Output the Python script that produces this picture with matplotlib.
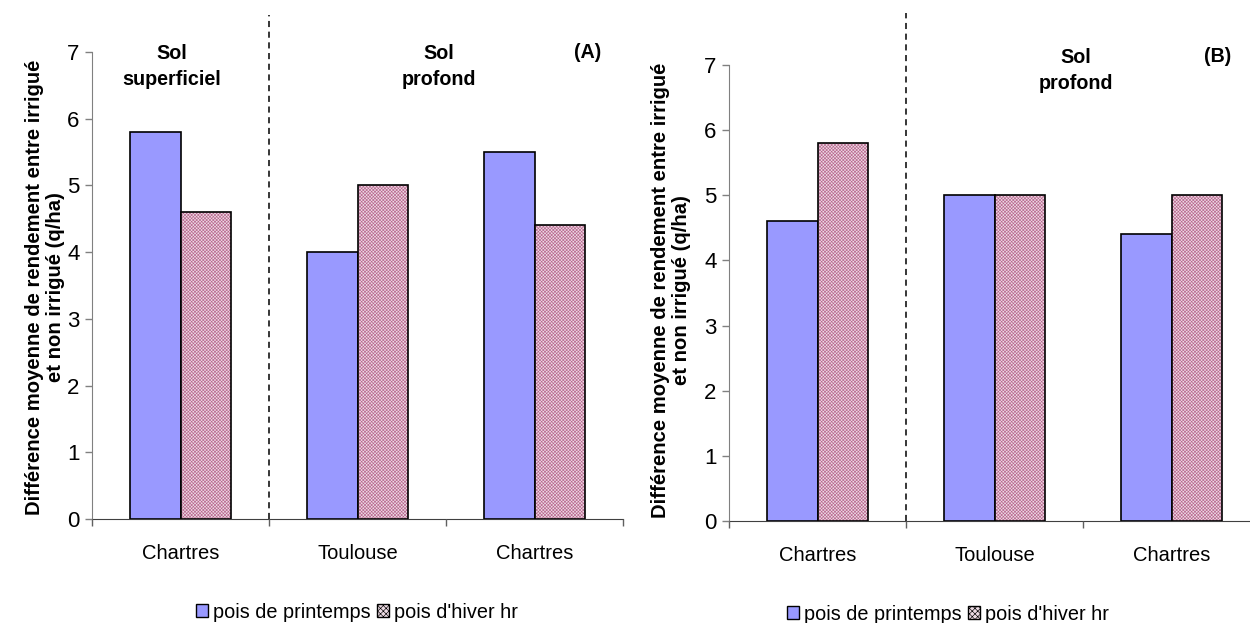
import matplotlib.pyplot as plt
from matplotlib.patches import Patch
import numpy as np

plt.rcParams['font.family'] = ['Liberation Sans', 'DejaVu Sans']
plt.rcParams['hatch.linewidth'] = 0.45

sites = ['Chartres', 'Toulouse', 'Chartres']
series_names = ['pois de printemps', "pois d'hiver hr"]

# panel A
spring_A = [5.8, 4.0, 5.5]
winter_A = [4.6, 5.0, 4.4]
# panel B
spring_B = [4.6, 5.0, 4.4]
winter_B = [5.8, 5.0, 5.0]

blue = '#9999ff'
pink_face = '#ecdae3'
pink_hatch = '#b8658e'
ylab = "Différence moyenne de rendement entre irrigué\net non irrigué (q/ha)"

W, H = 1250, 623
fig = plt.figure(figsize=(W / 100, H / 100), dpi=100)


def px_axes(x0, x1, y0, y7):
    # pixel box -> figure fraction
    return fig.add_axes([x0 / W, 1 - y0 / H, (x1 - x0) / W, (y0 - y7) / H])


def draw_panel(ax, spring, winter):
    idx = np.arange(len(sites))
    w = 0.283
    ax.bar(idx - w / 2, spring, w, color=blue, edgecolor='black', linewidth=1.2)
    ax.bar(idx + w / 2, winter, w, color=pink_face, edgecolor='black', linewidth=1.2,
           hatch='xxxxxxxxxx')
    for b in ax.patches[len(sites):]:
        b._hatch_color = plt.matplotlib.colors.to_rgba(pink_hatch)
    ax.set_xlim(-0.5, 2.5)
    ax.set_ylim(0, 7)
    ax.set_yticks(range(8))
    ax.set_xticks(idx)
    ax.set_xticklabels(sites)
    ax.set_xticks([-0.5, 0.5, 1.5, 2.5], minor=True)
    ax.tick_params(axis='x', which='major', length=0, pad=18, labelsize=14.5)
    ax.tick_params(axis='x', which='minor', length=5, color='#606060', width=1)
    ax.tick_params(axis='y', length=5, color='#808080', width=1, pad=4, labelsize=16)
    for s in ['top', 'right']:
        ax.spines[s].set_visible(False)
    ax.spines['left'].set_color('#808080')
    ax.spines['bottom'].set_color('#404040')
    ax.set_axisbelow(False)


axA = px_axes(92, 623, 519, 52)
draw_panel(axA, spring_A, winter_A)
axA.plot([0.5, 0.5], [0, 7.55], color='black', lw=1.1, ls=(0, (4, 3)), clip_on=False)
axA.text(-0.05, 6.78, 'Sol\nsuperficiel', ha='center', va='center', fontsize=14.2,
         fontweight='bold', linespacing=1.45)
axA.text(1.46, 6.78, 'Sol\nprofond', ha='center', va='center', fontsize=14.2,
         fontweight='bold', linespacing=1.45)
axA.text(2.30, 7.0, '(A)', ha='center', va='center', fontsize=14.2, fontweight='bold')

axB = px_axes(729, 1260, 521, 65)
draw_panel(axB, spring_B, winter_B)
axB.plot([0.5, 0.5], [0, 7.8], color='black', lw=1.1, ls=(0, (4, 3)), clip_on=False)
axB.text(1.46, 6.91, 'Sol\nprofond', ha='center', va='center', fontsize=14.2,
         fontweight='bold', linespacing=1.45)
axB.text(2.26, 7.13, '(B)', ha='center', va='center', fontsize=14.2, fontweight='bold')

fig.text(45 / W, 1 - 287 / H, ylab, rotation=90, ha='center', va='center',
         fontsize=14.6, fontweight='bold', linespacing=1.15)
fig.text(671 / W, 1 - 290 / H, ylab, rotation=90, ha='center', va='center',
         fontsize=14.6, fontweight='bold', linespacing=1.15)

handles = [Patch(facecolor=blue, edgecolor='black', linewidth=1),
           Patch(facecolor=pink_face, edgecolor='black', linewidth=1, hatch='xxxxxx')]
for cx, cy in [(357, 612), (948, 614)]:
    fig.legend(handles, series_names, loc='center', bbox_to_anchor=(cx / W, 1 - cy / H),
               ncol=2, frameon=False, fontsize=14.3, handlelength=0.6, handleheight=0.6,
               handletextpad=0.25, columnspacing=0.35, borderpad=0)

fig.savefig('out.png', dpi=100)
